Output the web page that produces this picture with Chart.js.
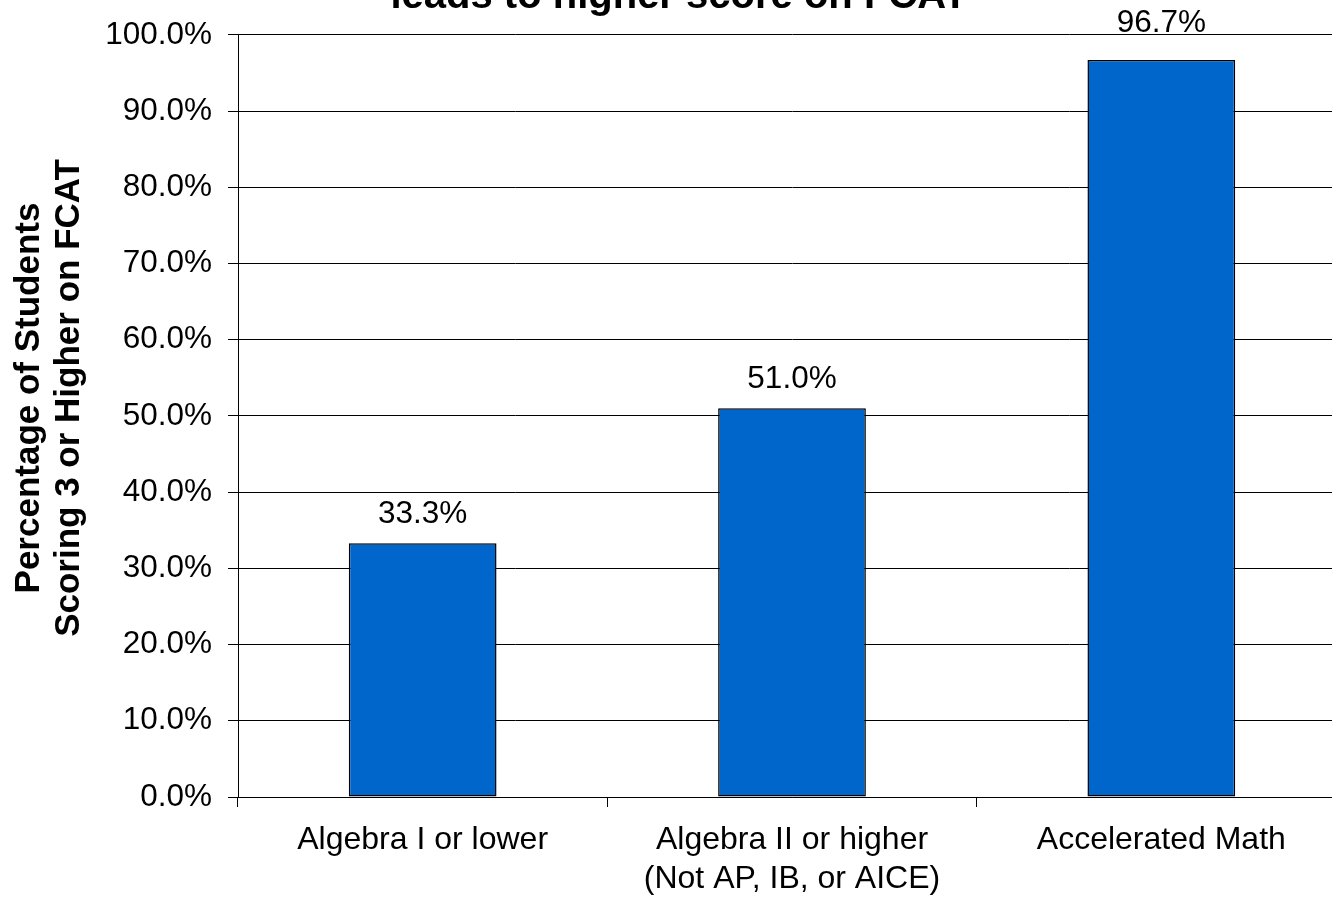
<!DOCTYPE html>
<html>
<head>
<meta charset="utf-8">
<script src="https://cdn.jsdelivr.net/npm/chart.js@4.4.1/dist/chart.umd.min.js"></script>
<style>
    html, body { margin: 0; padding: 0; background: #fff; overflow: hidden; }
    #wrap { position: relative; width: 1346px; height: 899px; }
</style>
</head>
<body>
<div id="wrap"><canvas id="chart-fcat"></canvas></div>
<script>
// Chart data
const categories = ['Algebra I or lower', ['Algebra II or higher', '(Not AP, IB, or AICE)'], 'Accelerated Math'];
const percentScoring3Plus = [33.3, 51.0, 96.7];
const titleLines = ['leads to higher score on FCAT'];
const yTitleLines = ['Percentage of Students', 'Scoring 3 or Higher on FCAT'];

const FONT = '"Liberation Sans", Arial, sans-serif';

// Title is mostly cut off at the top of the picture, only the last line shows
const titlePlugin = {
    id: 'clippedTitle',
    afterDraw(chart) {
        const ctx = chart.ctx;
        ctx.save();
        ctx.font = 'bold 40px ' + FONT;
        ctx.fillStyle = '#000';
        ctx.textAlign = 'center';
        ctx.textBaseline = 'alphabetic';
        titleLines.forEach((line, i) => {
            ctx.fillText(line, 679, 8 - (titleLines.length - 1 - i) * 46);
        });
        ctx.restore();
    }
};

// Rotated two-line y axis title
const yTitlePlugin = {
    id: 'yTitle',
    afterDraw(chart) {
        const ctx = chart.ctx;
        ctx.save();
        ctx.translate(29, 398);
        ctx.rotate(-Math.PI / 2);
        ctx.font = 'bold 35px ' + FONT;
        ctx.fillStyle = '#000';
        ctx.textAlign = 'center';
        ctx.textBaseline = 'middle';
        yTitleLines.forEach((line, i) => {
            ctx.fillText(line, 0, i * 40);
        });
        ctx.restore();
    }
};

// Value labels above each bar
const valueLabels = {
    id: 'valueLabels',
    afterDatasetsDraw(chart) {
        const ctx = chart.ctx;
        const top = chart.chartArea.top;
        const meta = chart.getDatasetMeta(0);
        ctx.save();
        ctx.font = '31.5px ' + FONT;
        ctx.fillStyle = '#000';
        ctx.textAlign = 'center';
        ctx.textBaseline = 'alphabetic';
        meta.data.forEach((bar, i) => {
            let y = bar.y - 20;
            // keep the label clear of the top gridline
            if (y - 24 < top + 4) y = top - 3;
            ctx.fillText(percentScoring3Plus[i].toFixed(1) + '%', bar.x, y);
        });
        ctx.restore();
    }
};

new Chart(document.getElementById('chart-fcat'), {
    type: 'bar',
    data: {
        labels: categories,
        datasets: [{
            data: percentScoring3Plus,
            backgroundColor: '#0066CC',
            borderColor: '#000',
            borderWidth: 1.5,
            borderSkipped: false,
            barPercentage: 0.4,
            categoryPercentage: 1.0
        }]
    },
    options: {
        responsive: true,
        maintainAspectRatio: false,
        animation: false,
        layout: { padding: { top: 33, right: 0, bottom: 0, left: 0 } },
        plugins: {
            legend: { display: false },
            tooltip: { enabled: false },
            title: { display: false }
        },
        scales: {
            x: {
                afterFit: (scale) => { scale.height = 102; },
                grid: {
                    offset: true,
                    drawOnChartArea: false,
                    drawTicks: true,
                    tickLength: 10,
                    color: '#000'
                },
                border: { color: '#000', width: 1 },
                ticks: {
                    color: '#000',
                    padding: 14,
                    font: { family: FONT, size: 32, lineHeight: 1.22 }
                }
            },
            y: {
                min: 0,
                max: 100,
                afterFit: (scale) => { scale.width = 238; },
                grid: {
                    color: '#000',
                    lineWidth: 1,
                    tickLength: 10
                },
                border: { color: '#000', width: 1 },
                ticks: {
                    stepSize: 10,
                    color: '#000',
                    padding: 16,
                    font: { family: FONT, size: 31.5 },
                    callback: (v) => v.toFixed(1) + '%'
                }
            }
        }
    },
    plugins: [titlePlugin, yTitlePlugin, valueLabels]
});
</script>
</body>
</html>
